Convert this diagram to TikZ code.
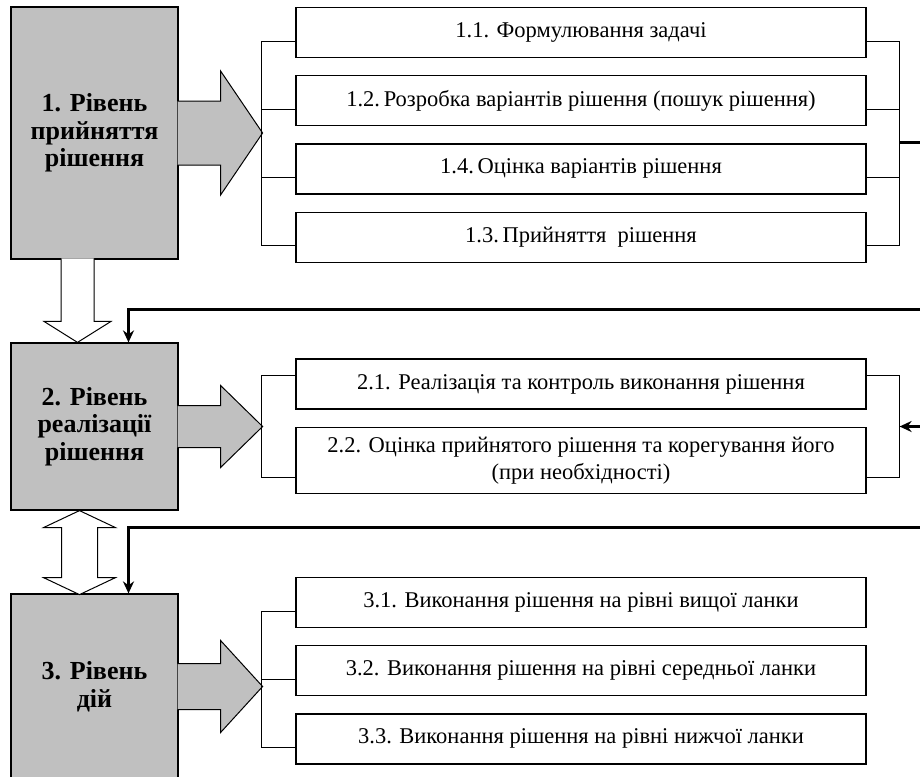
\documentclass[tikz,border=0pt]{standalone}
\usepackage{fontspec}
\setmainfont{Liberation Serif}
\usetikzlibrary{positioning,arrows.meta}

\definecolor{levelcolor}{RGB}{192,192,192}

\begin{document}
\begin{tikzpicture}[x=1pt, y=-1pt, node distance=17pt,
	level/.style = {draw, fill=levelcolor, line width=1.2pt, minimum width=167pt, inner sep=0pt, align=center, font=\fontsize{26}{27.5}\selectfont\bfseries},
	task/.style = {draw, line width=1.2pt, minimum width=570pt, minimum height=50pt, inner sep=0pt, align=center, font=\fontsize{22.5}{27}\selectfont},
	bigarrow/.style = {draw, fill=levelcolor, line width=1pt},
	hollow/.style = {draw, fill=white, line width=1pt},
	link/.style = {line width=1pt},
	back/.style = {line width=3pt, -{Stealth[length=12pt, width=11pt]}}]
	\useasboundingbox (0,0) rectangle (920,776);

	% levels
	\node[level, minimum height=252pt] (L1) at (94.5,133) {1. Рівень\\прийняття\\рішення};
	\node[level, minimum height=167pt] (L2) at (94.5,426.5) {2. Рівень\\реалізації\\рішення};
	\node[level, minimum height=185pt] (L3) at (94.5,686.5) {3. Рівень\\дій};

	\foreach \lv/\sh/\hd in {L1/32/62, L2/21/41, L3/23/46}
		\draw[bigarrow, shift={(\lv.east)}] (-1,-\sh) -- (42,-\sh) -- (42,-\hd) -- (84,0) -- (42,\hd) -- (42,\sh) -- (-1,\sh);

	% tasks
	\node[task] (b11) at (581,32.5) {1.1. Формулювання задачі};
	\node[task] (b12) [below=of b11] {1.2.\,Розробка варіантів рішення (пошук рішення)};
	\node[task] (b14) [below=of b12] {1.4.\,Оцінка варіантів рішення};
	\node[task] (b13) [below=of b14] {1.3.\,Прийняття\ \ рішення};

	\node[task] (b21) at (581,384) {2.1. Реалізація та контроль виконання рішення};
	\node[task, minimum height=66pt] (b22) [below=of b21] {2.2. Оцінка прийнятого рішення та корегування його\\(при необхідності)};

	\node[task] (b31) at (581,602.5) {3.1. Виконання рішення на рівні вищої ланки};
	\node[task] (b32) [below=of b31] {3.2. Виконання рішення на рівні середньої ланки};
	\node[task] (b33) [below=of b32] {3.3. Виконання рішення на рівні нижчої ланки};

	% brackets
	\draw[link] ([yshift=17pt]b11.south west) -- ++(-34,0) |- ([yshift=17pt]b13.south west);
	\draw[link] ([yshift=17pt]b12.south west) -- ++(-34,0);
	\draw[link] ([yshift=17pt]b14.south west) -- ++(-34,0);
	\draw[link] ([yshift=17pt]b11.south east) -- ++(33,0) |- ([yshift=17pt]b13.south east);
	\draw[link] ([yshift=17pt]b12.south east) -- ++(33,0);
	\draw[link] ([yshift=17pt]b14.south east) -- ++(33,0);

	\draw[link] ([yshift=-17pt]b21.north west) -- ++(-34,0) |- ([yshift=16pt]b22.south west);
	\draw[link] ([yshift=-17pt]b21.north east) -- ++(33,0) |- ([yshift=16pt]b22.south east);

	\draw[link] ([yshift=17pt]b31.south west) -- ++(-34,0) |- ([yshift=17pt]b33.south west);
	\draw[link] ([yshift=17pt]b32.south west) -- ++(-34,0);

	% hollow arrows between levels
	\draw[hollow, shift={([xshift=-17pt]L2.north)}] (-16.5,-84) -- (-16.5,-21) -- (-33.5,-21) -- (0,0) -- (33.5,-21) -- (16.5,-21) -- (16.5,-84);
	\draw[hollow, shift={([xshift=-15pt]L2.south)}] (0,0) -- (36,17) -- (18,17) -- (18,67) -- (36,67) -- (0,84) -- (-36,67) -- (-18,67) -- (-18,17) -- (-36,17) -- cycle;

	% feedback lines
	\coordinate (out1) at (922,142);
	\coordinate (fb1) at (922,309);
	\coordinate (in2) at (922,426.5);
	\coordinate (fb2) at (922,527);
	\path ([xshift=33pt]b11.east) coordinate (r1);
	\draw[line width=3pt] (r1 |- out1) -- (out1);
	\draw[back] (fb1) -| ([xshift=34pt]L2.north);
	\draw[back] (in2) -- (r1 |- in2);
	\draw[back] (fb2) -| ([xshift=34pt]L3.north);
\end{tikzpicture}
\end{document}
